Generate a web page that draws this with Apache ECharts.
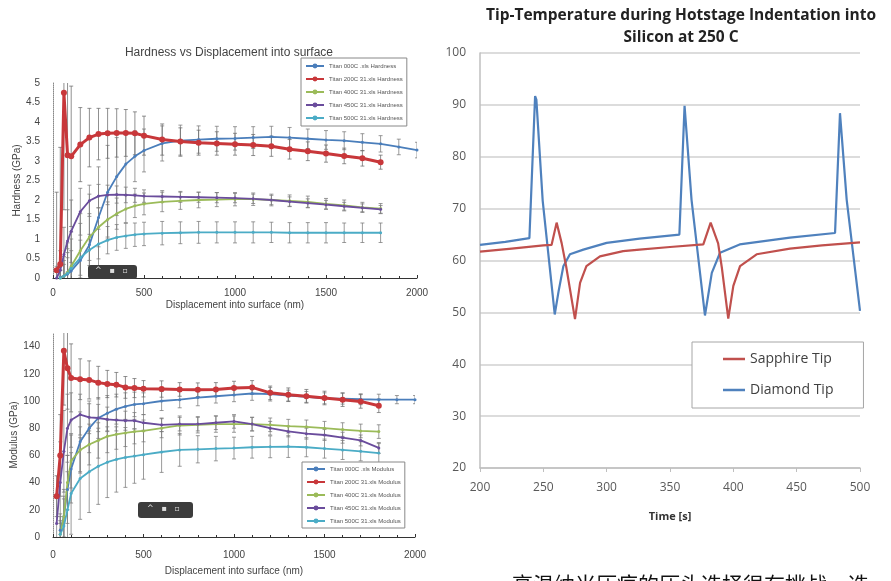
<!DOCTYPE html>
<html><head><meta charset="utf-8">
<script src="https://cdn.jsdelivr.net/npm/echarts@6/dist/echarts.min.js"></script>
<style>html,body{margin:0;padding:0;background:#fff}#c{width:891px;height:581px}</style>
</head><body><div id="c"></div>
<script>
// ---------- Left charts: displacement grid (nm) ----------
const dispX = [0,20,40,60,80,100,150,200,250,300,350,400,450,500,600,700,800,900,1000,1100,1200,1300,1400,1500,1600,1700,1800,1900,2000];

const hardNames = ['Titan 000C .xls Hardness','Titan 200C 31.xls Hardness','Titan 400C 31.xls Hardness','Titan 450C 31.xls Hardness','Titan 500C 31.xls Hardness'];
const hBlue   = [null,null,0.02,0.05,0.1,0.18,0.45,0.85,1.55,2.2,2.6,2.92,3.12,3.27,3.45,3.52,3.55,3.57,3.58,3.6,3.62,3.6,3.57,3.54,3.52,3.48,3.44,3.36,3.28];
const hBlueErr= [null,null,0.3,0.5,0.8,1.0,1.2,1.3,1.3,1.2,1.0,0.8,0.65,0.55,0.45,0.4,0.35,0.32,0.3,0.28,0.27,0.26,0.25,0.24,0.23,0.22,0.21,0.2,0.2];
const hRed    = [null,0.2,0.35,4.75,3.15,3.12,3.42,3.6,3.69,3.71,3.72,3.72,3.71,3.65,3.55,3.5,3.47,3.45,3.43,3.41,3.38,3.3,3.25,3.19,3.13,3.07,2.97,null,null];
const hRedErr = [null,2,3,3,2.5,1.8,0.95,0.75,0.66,0.64,0.62,0.6,0.55,0.5,0.4,0.35,0.32,0.3,0.28,0.27,0.26,0.25,0.24,0.22,0.2,0.2,0.18,null,null];
const hGreen  = [null,null,0,0.05,0.15,0.3,0.7,1.05,1.3,1.5,1.65,1.77,1.85,1.9,1.95,1.98,2.0,2.01,2.02,2.02,2.0,1.98,1.95,1.9,1.86,1.81,1.78,null,null];
const hGreenErr=[null,null,0.2,0.4,0.6,0.7,0.7,0.6,0.5,0.45,0.4,0.35,0.3,0.28,0.25,0.22,0.2,0.18,0.17,0.16,0.15,0.15,0.15,0.14,0.14,0.13,0.13,null,null];
const hPurple = [null,0,0.2,0.6,0.95,1.2,1.7,1.98,2.1,2.13,2.14,2.13,2.12,2.1,2.09,2.08,2.07,2.06,2.05,2.03,2.0,1.96,1.92,1.88,1.84,1.8,1.76,null,null];
const hPurpleErr=[null,0.3,0.5,0.7,0.8,0.8,0.6,0.4,0.3,0.25,0.22,0.2,0.18,0.16,0.15,0.14,0.13,0.13,0.12,0.12,0.12,0.12,0.11,0.11,0.1,0.1,0.1,null,null];
const hCyan   = [null,null,0,0.05,0.12,0.25,0.52,0.72,0.87,0.97,1.04,1.08,1.11,1.13,1.15,1.16,1.17,1.17,1.17,1.17,1.17,1.16,1.16,1.16,1.16,1.16,1.16,null,null];
const hCyanErr= [null,null,0.2,0.3,0.4,0.45,0.45,0.4,0.38,0.35,0.33,0.32,0.3,0.3,0.3,0.28,0.28,0.27,0.27,0.27,0.26,0.26,0.26,0.26,0.25,0.25,0.25,null,null];

const modNames = ['Titan 000C .xls Modulus','Titan 200C 31.xls Modulus','Titan 400C 31.xls Modulus','Titan 450C 31.xls Modulus','Titan 500C 31.xls Modulus'];
const mBlue   = [null,null,5,15,35,50,70,80,87.5,91,94,96,97.5,98,100,101,102.5,103.5,104.5,105.5,105,104,103,102,101.7,101.3,101,101,101];
const mBlueErr= [null,null,10,20,25,25,22,18,15,13,11,10,9,8,7,6,6,5,5,5,5,4,4,4,4,4,4,3,3];
const mRed    = [null,30,60,137,124,117,116,115.5,113.5,112.5,112,110,109.5,109,108.8,108.5,108.3,108.5,109.5,110,106,104.6,103.5,102.2,101,99.7,96.5,null,null];
const mRedErr = [null,15,30,40,30,25,15,14,12,10,9,8,7,6,6,5,5,5,5,5,5,5,5,5,5,5,5,null,null];
const mGreen  = [null,null,2,15,40,56,64,68,71,74,75.5,76.5,77.5,78,80,82,82.5,83,83,83,82.5,81.5,81,80,79,78,77.5,null,null];
const mGreenErr=[null,null,10,15,20,20,17,15,13,12,11,10,9,8,7,7,6,6,6,5,5,5,5,5,5,5,5,null,null];
const mPurple = [null,10,40,63,80,86,90,88,87.5,86.5,86,85.5,85.5,84,82.5,83,83,84,85,83,80,77.6,76,75,73,71,65.5,null,null];
const mPurpleErr=[null,20,30,30,25,20,15,12,10,9,8,7,6,6,5,5,5,5,5,5,5,4,4,4,4,4,4,null,null];
const mCyan   = [null,null,2,8,20,32,43,48,52,55,57,58.5,59.5,60.5,62.5,64,64.5,65,65.4,66,66.3,66.5,66,65,64,63,61.7,null,null];
const mCyanErr= [null,null,15,20,28,30,30,30,28,26,24,22,20,18,15,12,10,9,8,8,8,8,7,7,7,7,7,null,null];

// ---------- Right chart: tip temperature ----------
const diamondT = [200,220,239,240,243.5,244.5,249.5,259,262,265.8,271,281.6,300,326,357.4,361.5,367,377.6,383,389.5,405,444.7,480.3,484.2,489.5,500];
const diamondV = [63.0,63.6,64.3,64.5,91.7,91.0,71.5,49.6,54.0,58.9,61.2,62.1,63.4,64.2,65.0,89.8,71.7,49.4,57.6,61.5,63.1,64.4,65.3,88.4,71.7,50.3];
const sapphireT = [200,225,250,256.5,260.5,264.5,268,275,279,284,294.7,313,326,350,376.3,382.1,388,391,396,400,405.3,418.4,444.7,470,500];
const sapphireV = [61.7,62.3,62.9,63.0,67.3,63.3,58.9,48.7,55.7,58.9,60.8,61.8,62.1,62.6,63.1,67.3,63.3,58.5,48.8,55.1,58.9,61.2,62.3,62.9,63.5];

const colors = ['#4a7ebb','#c8373a','#9bbb59','#6a4c9c','#4bacc6'];

function pairs(xs, ys){ const out=[]; xs.forEach((x,i)=>{ if(ys[i]!=null) out.push([x, ys[i]]); }); return out; }
function errPairs(xs, ys, es){ const out=[]; xs.forEach((x,i)=>{ if(ys[i]!=null && es[i]!=null) out.push([x, ys[i]-es[i], ys[i]+es[i]]); }); return out; }
function errRender(color){
  return function(params, api){
    const x = api.value(0), lo = api.value(1), hi = api.value(2);
    const a = api.coord([x, hi]), b = api.coord([x, lo]);
    const st = {stroke: color, lineWidth: 1, opacity: 0.75};
    return {type:'group', children:[
      {type:'line', shape:{x1:a[0],y1:a[1],x2:b[0],y2:b[1]}, style:st},
      {type:'line', shape:{x1:a[0]-2,y1:a[1],x2:a[0]+2,y2:a[1]}, style:st},
      {type:'line', shape:{x1:b[0]-2,y1:b[1],x2:b[0]+2,y2:b[1]}, style:st}
    ]};
  };
}

const series = [];
const hSets = [[hBlue,hBlueErr],[hRed,hRedErr],[hGreen,hGreenErr],[hPurple,hPurpleErr],[hCyan,hCyanErr]];
const mSets = [[mBlue,mBlueErr],[mRed,mRedErr],[mGreen,mGreenErr],[mPurple,mPurpleErr],[mCyan,mCyanErr]];
function addLeft(sets, names, gi){
  sets.forEach((s,k)=>{
    series.push({type:'custom', name:'err'+gi+'_'+k, xAxisIndex:gi, yAxisIndex:gi, clip:true, silent:true, z:1,
      encode:{x:0,y:[1,2]}, renderItem: errRender(k===1?'#6b6b6b':'#7a7a7a'), data: errPairs(dispX, s[0], s[1])});
  });
  sets.forEach((s,k)=>{
    series.push({type:'line', name:names[k], xAxisIndex:gi, yAxisIndex:gi, z:3,
      data: pairs(dispX, s[0]), showSymbol:true, symbol: 'circle', symbolSize: k===1?6:3,
      lineStyle:{color:colors[k], width: k===1?3:1.8}, itemStyle:{color:colors[k]}, clip:true});
  });
}
addLeft(hSets, hardNames, 0);
addLeft(mSets, modNames, 1);
series.push({type:'line', name:'Sapphire Tip', xAxisIndex:2, yAxisIndex:2, data: pairs(sapphireT, sapphireV), symbol:'none',
  lineStyle:{color:'#c0504d', width:2.2}, itemStyle:{color:'#c0504d'}, z:3});
series.push({type:'line', name:'Diamond Tip', xAxisIndex:2, yAxisIndex:2, data: pairs(diamondT, diamondV), symbol:'none',
  lineStyle:{color:'#4f81bd', width:2.2}, itemStyle:{color:'#4f81bd'}, z:2});

const leftFont = 'Liberation Sans';
const leftText = '#444';
const plain = v => String(v);
function leftX(idx){
  return {type:'value', gridIndex:idx, min:0, max:2000, interval:500,
    name:'Displacement into surface (nm)', nameLocation:'middle', nameGap: idx===0?22:29,
    nameTextStyle:{fontFamily:leftFont, fontSize:10, color:leftText},
    axisLine:{show:true, onZero:false, lineStyle:{color:'#333', width:1}},
    axisTick:{show:true, inside:true, length:3, lineStyle:{color:'#333'}},
    minorTick:{show:true, splitNumber:5, length:2, lineStyle:{color:'#333'}},
    axisLabel:{fontFamily:leftFont, fontSize:10, color:leftText, margin: idx===0?10:13, formatter: plain},
    splitLine:{show:false}};
}
function leftY(idx, max, interval, name){
  return {type:'value', gridIndex:idx, min:0, max:max, interval:interval,
    name:name, nameLocation:'middle', nameGap:31,
    nameTextStyle:{fontFamily:leftFont, fontSize:10, color:leftText},
    axisLine:{show:true, lineStyle:{color:'#888', width:1, type:'dotted'}},
    axisTick:{show:false},
    axisLabel:{fontFamily:leftFont, fontSize:10, color:leftText, margin:13, showMaxLabel: idx===0},
    splitLine:{show:false}};
}

const option = {
  animation:false,
  backgroundColor:'#ffffff',
  title:[
    {text:'Hardness vs Displacement into surface', left:224, top:42, textAlign:'center',
      textStyle:{fontFamily:leftFont, fontSize:12, fontWeight:'normal', color:'#444'}},
    {text:'Tip-Temperature during Hotstage Indentation into\nSilicon at 250 C', left:676, top:0, textAlign:'center',
      textStyle:{fontFamily:'Open Sans', fontSize:15.5, fontWeight:'bold', color:'#222', lineHeight:22}}
  ],
  grid:[
    {left:53, top:83, width:364, height:195},
    {left:53, top:333, width:362, height:204},
    {left:480, top:53, width:380, height:415}
  ],
  xAxis:[ leftX(0), leftX(1),
    {type:'value', gridIndex:2, min:200, max:500, interval:50, name:'Time [s]', nameLocation:'middle', nameGap:43,
      nameTextStyle:{fontFamily:'Open Sans', fontSize:11, fontWeight:'bold', color:'#333'},
      axisLine:{show:true, onZero:false, lineStyle:{color:'#bfbfbf', width:1.5}},
      axisTick:{show:true, length:4, lineStyle:{color:'#bfbfbf'}},
      axisLabel:{fontFamily:'Open Sans', fontSize:12, color:'#595959', margin:14},
      splitLine:{show:false}}
  ],
  yAxis:[ leftY(0, 5, 0.5, 'Hardness (GPa)'), leftY(1, 150, 20, 'Modulus (GPa)'),
    {type:'value', gridIndex:2, min:20, max:100, interval:10,
      axisLine:{show:true, lineStyle:{color:'#bfbfbf', width:1.5}},
      axisTick:{show:false},
      axisLabel:{fontFamily:'Open Sans', fontSize:12, color:'#595959', margin:14},
      splitLine:{show:true, lineStyle:{color:'#d0d0d0', width:1.5}}}
  ],
  legend:[
    {data:hardNames, orient:'vertical', left:301, top:58, itemWidth:18, itemHeight:6, itemGap:7,
      padding:[5,4,5,4], backgroundColor:'#fff', borderColor:'#888', borderWidth:1, borderRadius:0,
      textStyle:{fontFamily:leftFont, fontSize:6, color:'#555'}, selectedMode:false},
    {data:modNames, orient:'vertical', left:302, top:462, itemWidth:18, itemHeight:6, itemGap:7,
      padding:[4,4,4,4], backgroundColor:'#fff', borderColor:'#888', borderWidth:1, borderRadius:0,
      textStyle:{fontFamily:leftFont, fontSize:6, color:'#555'}, selectedMode:false},
    {data:['Sapphire Tip','Diamond Tip'], orient:'vertical', left:692, top:342, icon:'rect', itemWidth:22, itemHeight:2.5, itemGap:17,
      padding:[10,30,11,31], backgroundColor:'#fff', borderColor:'#a6a6a6', borderWidth:1, borderRadius:0,
      textStyle:{fontFamily:'Open Sans', fontSize:14, color:'#404040'}, selectedMode:false}
  ],
  graphic:[
    {type:'rect', left:88, top:265, shape:{width:49, height:14, r:3}, style:{fill:'#3c3c3c'}, z:20},
    {type:'text', left:95, top:267, style:{text:'^   ▪   ▫', fill:'#ddd', font:'8px DejaVu Sans'}, z:21},
    {type:'rect', left:138, top:502, shape:{width:55, height:16, r:3}, style:{fill:'#3c3c3c'}, z:20},
    {type:'text', left:147, top:505, style:{text:'^   ▪   ▫', fill:'#ddd', font:'8px DejaVu Sans'}, z:21},
    {type:'text', left:512, top:574, style:{text:'高温纳米压痕的压头选择很有挑战，选', fill:'#111', font:'21px "Noto Sans CJK SC"'}, z:21}
  ],
  series: series
};
const chart = echarts.init(document.getElementById('c'));
chart.setOption(option);
</script>
</body></html>
